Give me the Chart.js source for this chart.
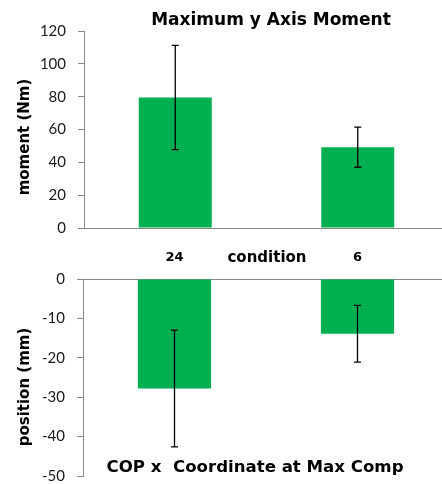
<!DOCTYPE html>
<html>
<head>
<meta charset="utf-8">
<script src="https://cdn.jsdelivr.net/npm/chart.js@4.4.1/dist/chart.umd.min.js"></script>
<style>
  html, body { margin: 0; padding: 0; background: #fff; overflow: hidden; }
  #wrap { position: relative; width: 442px; height: 484px; overflow: hidden; }
  #wrap canvas { position: absolute; left: 0; }
  #momentChart { top: 0; }
  #positionChart { top: 240px; }
</style>
</head>
<body>
<div id="wrap">
  <canvas id="momentChart" width="450" height="240"></canvas>
  <canvas id="positionChart" width="450" height="244"></canvas>
</div>
<script>
// Data
const conditions = ['24', '6'];
const momentMeans = [79.5, 49.2];
const momentErrors = [31.8, 12.2];
const positionMeans = [-27.8, -13.9];
const positionErrors = [14.8, 7.2];
const momentTicks = [0, 20, 40, 60, 80, 100, 120];
const positionTicks = [0, -10, -20, -30, -40, -50];

const GREEN = '#00B050';
const AXIS_GREY = '#868686';
const TICK_FONT = { family: 'Lato', size: 15 };
const BOLD = '"DejaVu Sans"';

// Draws +/- error bars on top of each bar
const errorBars = {
  id: 'errorBars',
  afterDatasetsDraw(chart, args, opts) {
    const ctx = chart.ctx;
    const yScale = chart.scales.y;
    chart.data.datasets.forEach((ds, i) => {
      const meta = chart.getDatasetMeta(i);
      meta.data.forEach((bar, j) => {
        const v = ds.data[j];
        const e = opts.errors[j];
        const yTop = yScale.getPixelForValue(v + e);
        const yBot = yScale.getPixelForValue(v - e);
        ctx.save();
        ctx.strokeStyle = '#000';
        ctx.lineWidth = 1.3;
        ctx.beginPath();
        ctx.moveTo(bar.x, yTop);
        ctx.lineTo(bar.x, yBot);
        ctx.moveTo(bar.x - 3.5, yTop);
        ctx.lineTo(bar.x + 3.5, yTop);
        ctx.moveTo(bar.x - 3.5, yBot);
        ctx.lineTo(bar.x + 3.5, yBot);
        ctx.stroke();
        ctx.restore();
      });
    });
  }
};

// Free text: chart titles, axis titles
const textLabels = {
  id: 'textLabels',
  afterDraw(chart, args, opts) {
    const ctx = chart.ctx;
    opts.items.forEach(t => {
      ctx.save();
      ctx.font = 'bold ' + t.size + 'px ' + BOLD;
      ctx.fillStyle = '#000';
      ctx.textAlign = 'center';
      ctx.textBaseline = 'middle';
      ctx.translate(t.x, t.y);
      if (t.rotate) ctx.rotate(-Math.PI / 2);
      ctx.fillText(t.text, 0, 0);
      ctx.restore();
    });
  }
};

function yAxis(min, max, ticks, width) {
  return {
    min: min,
    max: max,
    afterFit: scale => {
      scale.width = width;
      // keep the plot area exactly where the layout padding puts it
      scale.paddingTop = 0;
      scale.paddingBottom = 0;
    },
    afterBuildTicks: scale => { scale.ticks = ticks.map(v => ({ value: v })); },
    grid: { drawOnChartArea: false, drawTicks: true, tickLength: 6, color: AXIS_GREY },
    border: { color: AXIS_GREY, width: 1 },
    ticks: { color: '#1a1a1a', font: TICK_FONT, padding: 12 }
  };
}

function xFit(height) {
  return scale => {
    scale.height = height;
    scale.paddingLeft = 0;
    scale.paddingRight = 0;
  };
}

new Chart(document.getElementById('momentChart'), {
  type: 'bar',
  data: {
    labels: conditions,
    datasets: [{ data: momentMeans, backgroundColor: GREEN, categoryPercentage: 1, barPercentage: 0.4 }]
  },
  options: {
    responsive: false,
    animation: false,
    layout: { padding: { top: 31, right: 1, left: 0, bottom: 0 } },
    scales: {
      x: {
        afterFit: xFit(12),
        grid: { display: false },
        border: { color: AXIS_GREY, width: 1 },
        ticks: { display: false }
      },
      y: yAxis(0, 120, momentTicks, 84)
    },
    plugins: {
      legend: { display: false },
      tooltip: { enabled: false },
      errorBars: { errors: momentErrors },
      textLabels: {
        items: [
          { text: 'Maximum y Axis Moment', x: 271, y: 21, size: 17 },
          { text: 'moment (Nm)', x: 25, y: 137, size: 15, rotate: true }
        ]
      }
    }
  },
  plugins: [errorBars, textLabels]
});

new Chart(document.getElementById('positionChart'), {
  type: 'bar',
  data: {
    labels: conditions,
    datasets: [{ data: positionMeans, backgroundColor: GREEN, categoryPercentage: 1, barPercentage: 0.4 }]
  },
  options: {
    responsive: false,
    animation: false,
    layout: { padding: { top: 0, right: 1, left: 0, bottom: 8 } },
    scales: {
      x: {
        position: 'top',
        afterFit: xFit(39),
        grid: { display: false, tickLength: 0 },
        border: { color: AXIS_GREY, width: 1 },
        ticks: { color: '#000', font: { family: 'DejaVu Sans', size: 13, weight: 'bold' }, padding: 14 }
      },
      y: yAxis(-50, 0, positionTicks, 83)
    },
    plugins: {
      legend: { display: false },
      tooltip: { enabled: false },
      errorBars: { errors: positionErrors },
      textLabels: {
        items: [
          { text: 'condition', x: 267, y: 18, size: 15 },
          { text: 'COP x  Coordinate at Max Comp', x: 255, y: 228, size: 16.6 },
          { text: 'position (mm)', x: 25, y: 147, size: 15, rotate: true }
        ]
      }
    }
  },
  plugins: [errorBars, textLabels]
});
</script>
</body>
</html>
